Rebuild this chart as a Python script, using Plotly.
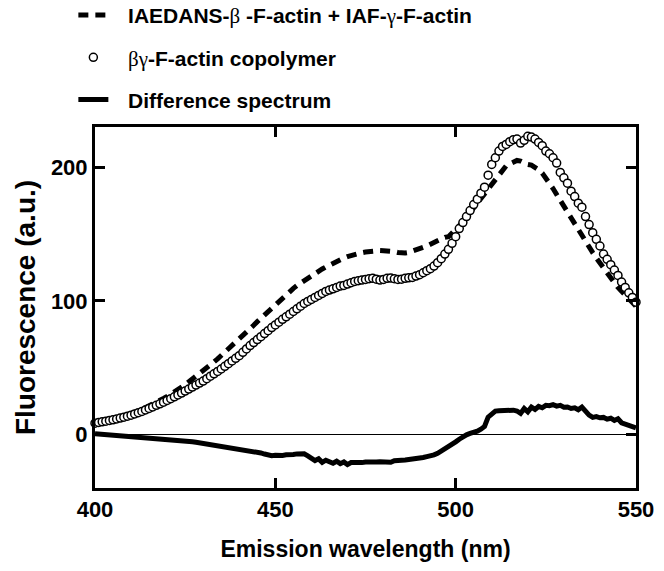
import plotly.graph_objects as go

wavelength = list(range(400, 551))

# IAEDANS-beta-F-actin + IAF-gamma-F-actin (sum of separate spectra), dashed
sum_spectrum = [
    8.5, 9, 9.6, 10.2, 10.8, 11.5, 12.2, 13, 13.8, 14.6,
    15.5, 16.5, 17.6, 18.8, 20, 21.3, 22.6, 24, 25.5, 27,
    28.5, 30, 31.8, 33.6, 35.4, 37.3, 39.3, 41.3, 43.4, 45.5,
    47.6, 49.8, 52, 54.3, 56.6, 59, 61.4, 63.8, 66.3, 68.8,
    71.3, 73.8, 76.4, 79, 81.7, 84.4, 87, 89.7, 92.3, 95,
    97.6, 100.2, 102.6, 105, 107.2, 109.3, 111.4, 113.3, 115.2, 117,
    118.8, 120.5, 122.2, 123.8, 125.3, 126.8, 128.2, 129.6, 130.9, 132,
    133, 134, 134.8, 135.5, 136, 136.5, 137, 137.3, 137.5, 137.6,
    137.5, 137.5, 137.2, 136.8, 136.2, 135.8, 135.8, 136.2, 137, 138,
    139, 140, 141, 142.3, 143.8, 145.5, 146.5, 147.5, 148, 150.5,
    153, 156, 159, 162.5, 166, 169.5, 173, 176.5, 180, 183.5,
    187, 191, 195, 198.5, 201, 202.5, 204, 205, 204.5, 203,
    202, 201.5, 200, 198, 195.5, 192, 188, 184, 179.5, 175,
    171, 167, 163, 158.5, 154, 149.5, 145, 140.5, 136, 132,
    128, 124, 120.5, 117, 113.5, 110, 107, 104, 101, 98.5,
    96,
]

# beta-gamma-F-actin copolymer, open circles
copolymer = [
    8.5, 9, 9.5, 10, 10.5, 11, 11.6, 12.3, 13, 13.7,
    14.5, 15.4, 16.3, 17.3, 18.4, 19.5, 20.6, 21.8, 23, 24.2,
    25.5, 26.8, 28.2, 29.6, 31, 32.5, 34, 35.5, 37, 38.5,
    40, 41.8, 43.6, 45.4, 47.2, 49, 51, 53, 55, 57,
    59, 61.5, 64, 66.5, 68.8, 71, 73.2, 75.5, 77.7, 80,
    82, 84, 86.2, 88, 90, 92, 94, 96, 98, 99.5,
    101, 102.5, 104, 105.5, 107, 108, 109, 110, 111, 111.5,
    112.5, 113.5, 114.5, 115, 115.5, 116, 116.5, 116.8, 116.2, 115.5,
    116, 116.8, 117, 116.5, 116, 116.2, 116.8, 117.2, 117.5, 118.5,
    119.5, 121, 122.5, 124, 126, 128.5, 131.5, 135, 138.5, 143,
    148, 154, 158.5, 163, 167.5, 172, 176, 180.5, 185, 194,
    202, 207, 212, 215.5, 217, 219, 220.5, 221, 218, 220,
    223, 222.5, 221, 218.5, 216, 212, 210, 207, 203, 196,
    192, 188, 182, 178, 173, 170, 163, 157, 151, 146,
    141, 135, 131, 127, 123, 119, 114, 110, 106, 102.5,
    99,
]

# Difference spectrum, solid line
difference = [
    0.5, 0.3, 0, -0.2, -0.3, -0.5, -0.6, -0.8, -1, -1.1,
    -1.3, -1.5, -1.7, -1.9, -2, -2.2, -2.4, -2.6, -2.9, -3.2,
    -3.4, -3.5, -3.8, -4.1, -4.4, -4.7, -5, -5.4, -5.8, -6.2,
    -6.6, -7, -7.3, -7.7, -8.1, -8.5, -8.9, -9.3, -9.7, -10.1,
    -10.5, -10.9, -11.4, -11.9, -12.4, -13, -13.8, -14.6, -15.4, -15.8,
    -15.5, -15.9, -15.6, -15.2, -15.3, -15, -14.5, -14, -14.4, -16,
    -17.8, -19.5, -18.2, -20.8, -19.2, -20.5, -21.5, -20, -21.8, -20.5,
    -22.5, -21, -21.3, -20.8, -21, -20.5, -20.8, -20.5, -20.6, -20.4,
    -20.5, -20, -20.8, -19.6, -19.8, -19.2, -19, -18.8, -18, -18.3,
    -17.6, -17.2, -16.5, -16, -15.2, -14, -12.5, -10.8, -9, -7.2,
    -5.5, -3.5, -1.5, -0.2, 0.8, 1.5, 2.5, 4, 6, 13,
    15, 17.5, 17.8, 18, 18.2, 18.5, 18.2, 17.6, 15.8, 19.5,
    17, 20.5, 18.8, 21, 20, 21.8, 21.5, 22.3, 21.2, 21.8,
    20.4, 20.6, 19.5, 20, 18.5, 20.5, 17, 14.5, 12.8, 13.4,
    12.5, 12.8, 11.5, 12.2, 10.5, 11.8, 8.8, 7.6, 6.8, 6,
    5,
]

x_ticks = [400, 450, 500, 550]
y_ticks = [0, 100, 200]

FONT = "Liberation Sans, Arial, sans-serif"
GREEK = "<span style='font-family:Liberation Serif;font-weight:normal'>{}</span>"

name_sum = "\u2002\u2009IAEDANS-" + GREEK.format("\u03b2") + " -F-actin + IAF-" + GREEK.format("\u03b3") + "-F-actin"
name_cop = "\u2002\u2009" + GREEK.format("\u03b2\u03b3") + "-F-actin copolymer"
name_dif = "\u2002\u2009Difference spectrum"

fig = go.Figure()
fig.add_trace(go.Scatter(
    x=wavelength, y=sum_spectrum, mode="lines", name=name_sum,
    line=dict(color="black", width=5, dash="10px,7px"),
    legendgroup="a",
))
fig.add_trace(go.Scatter(
    x=wavelength, y=copolymer, mode="markers", name=name_cop,
    marker=dict(symbol="circle", size=8, color="white",
                line=dict(color="black", width=1.5)),
    cliponaxis=False, legendgroup="b",
))
fig.add_trace(go.Scatter(
    x=wavelength, y=difference, mode="lines", name=name_dif,
    line=dict(color="black", width=5),
    legendgroup="c",
))

axis_common = dict(
    showline=True, linecolor="black", linewidth=3, mirror="ticks",
    ticks="inside", ticklen=10, tickwidth=3, tickcolor="black",
    showgrid=False,
    tickfont=dict(family=FONT, size=22, color="black", weight="bold"),
)

fig.update_layout(
    width=664, height=571,
    margin=dict(l=95, r=28, t=127, b=83, autoexpand=False),
    paper_bgcolor="white", plot_bgcolor="white",
    font=dict(family=FONT, color="black"),
    showlegend=True,
    legend=dict(
        x=-0.04, y=1.366, xanchor="left", yanchor="top",
        font=dict(family=FONT, size=21, color="black", weight="bold"),
        tracegroupgap=12, bgcolor="rgba(0,0,0,0)",
        itemwidth=30,
    ),
    xaxis=dict(
        range=[400, 550], tickvals=x_ticks, zeroline=False,
        title=dict(text="Emission wavelength (nm)", standoff=20,
                   font=dict(family=FONT, size=23, color="black", weight="bold")),
        **axis_common,
    ),
    yaxis=dict(
        range=[-40, 230], tickvals=y_ticks,
        zeroline=True, zerolinecolor="black", zerolinewidth=1,
        title=dict(text="Fluorescence (a.u.)", standoff=8,
                   font=dict(family=FONT, size=28, color="black", weight="bold")),
        **axis_common,
    ),
)

fig.write_html("out.html", config={"displayModeBar": False},
               post_script="document.body.style.margin='0';")
